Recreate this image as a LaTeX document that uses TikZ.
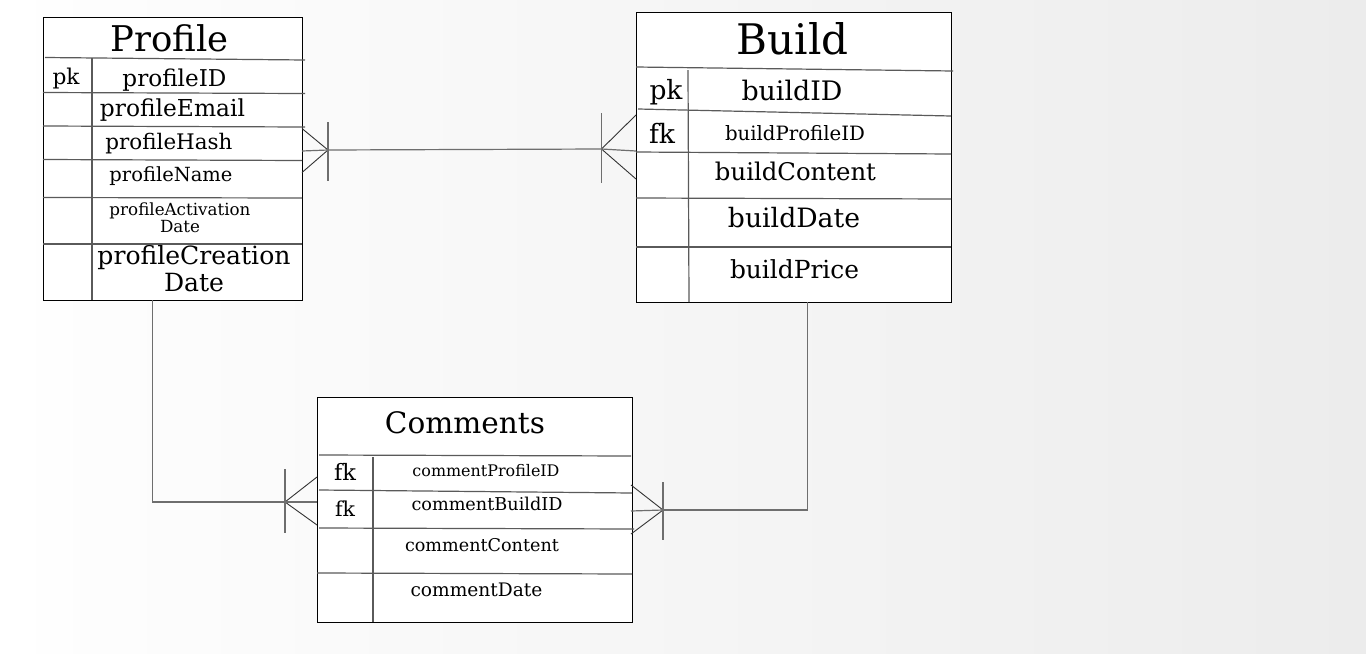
\documentclass[tikz,border=0pt]{standalone}
\usepackage{fontspec}
\setmainfont{DejaVu Serif}
\usepackage{graphicx}
\usetikzlibrary{positioning}
\definecolor{rule}{RGB}{90,90,90}
\definecolor{linkgray}{RGB}{110,110,110}
\definecolor{bgleft}{RGB}{254,254,254}
\definecolor{bgmid}{RGB}{247,247,247}
\definecolor{bgright}{RGB}{236,236,236}
\newcommand{\fitto}[2]{\resizebox{#1pt}{!}{#2}}
\tikzset{
  entity/.style={draw=black, line width=1pt, fill=white, anchor=north west,
    inner sep=0pt, outer sep=0pt},
  rowline/.style={draw=rule, line width=1.2pt},
  attr/.style={inner sep=0pt, outer sep=0pt},
  link/.style={draw=linkgray, line width=1.2pt},
  prong/.style={draw=black!80, line width=0.9pt},
}

\begin{document}
\begin{tikzpicture}[x=1pt, y=-1pt]
  % background
  \fill[white] (0,0) rectangle (1366,654);
  \fill[left color=bgleft, middle color=bgmid, right color=bgright] (36,0) rectangle (1366,653);
  \useasboundingbox (0,0) rectangle (1366,654);

  % Profile
  \node[entity, minimum width=259pt, minimum height=283pt] (profile) at (43,17) {};
  \draw[rowline] (45,57.5) -- (305,60);
  \draw[rowline] (43,92.5) -- (305,93.5);
  \draw[rowline] (43,126) -- (305,127);
  \draw[rowline] (43,159.5) -- (302,160.5);
  \draw[rowline] (43,197.5) -- (302,198);
  \draw[rowline] (43,244) -- (302,244);
  \draw[rowline] (92,58) -- (92,300);
  \node[attr] (P_title) at (169.5,38) {\fitto{118}{Profile}};
  \node[attr] (P_pk) at (66,78.5) {\fitto{27}{pk}};
  \node[attr] (P_id) at (174.5,80) {\fitto{104}{profileID}};
  \node[attr] (P_email) at (172.5,110.5) {\fitto{145}{profileEmail}};
  \node[attr] (P_hash) at (169,143.5) {\fitto{127}{profileHash}};
  \node[attr] (P_name) at (171,176) {\fitto{123}{profileName}};
  \node[attr] (P_act) at (180,220) {\fitto{141}{\begin{tabular}{@{}c@{}}profileActivation\\[-2.4pt]Date\end{tabular}}};
  \node[attr] (P_cre) at (194,272) {\fitto{193}{\begin{tabular}{@{}c@{}}profileCreation\\[-1.6pt]Date\end{tabular}}};

  % Build
  \node[entity, minimum width=315pt, minimum height=289.5pt] (build) at (636,12.5) {};
  \draw[rowline] (636,67) -- (953,71);
  \draw[rowline] (638,109) -- (951,116);
  \draw[rowline] (636,152) -- (951,154);
  \draw[rowline] (636,198) -- (951,199);
  \draw[rowline] (636,247) -- (951,247);
  \draw[rowline] (688,70) -- (689,302);
  \node[attr] (B_title) at (792.5,38.5) {\fitto{112}{Build}};
  \node[attr] (B_pk) at (666,92) {\fitto{33}{pk}};
  \node[attr] (B_fk) at (662,133) {\fitto{26}{fk}};
  \node[attr] (B_id) at (792,90) {\fitto{101}{buildID}};
  \node[attr] (B_prof) at (795,133) {\fitto{140}{buildProfileID}};
  \node[attr] (B_cont) at (795.5,171.5) {\fitto{161}{buildContent}};
  \node[attr] (B_date) at (794,218) {\fitto{132}{buildDate}};
  \node[attr] (B_price) at (794.5,269) {\fitto{129}{buildPrice}};

  % Comments
  \node[entity, minimum width=315pt, minimum height=225pt] (comments) at (317,397) {};
  \draw[rowline] (319,455) -- (631,456);
  \draw[rowline] (319,490) -- (632,493);
  \draw[rowline] (319,528) -- (634,529);
  \draw[rowline] (317,573) -- (632,574);
  \draw[rowline] (373,457) -- (373,622);
  \node[attr] (C_title) at (465,422.5) {\fitto{160}{Comments}};
  \node[attr] (C_fk1) at (345,472) {\fitto{22}{fk}};
  \node[attr] (C_fk2) at (345,509) {\fitto{20}{fk}};
  \node[attr] (C_prof) at (486,470.5) {\fitto{147}{commentProfileID}};
  \node[attr] (C_build) at (487,504) {\fitto{151}{commentBuildID}};
  \node[attr] (C_cont) at (482,545.5) {\fitto{154}{commentContent}};
  \node[attr] (C_date) at (476.5,589.5) {\fitto{132}{commentDate}};

  % crow's feet
  \coordinate (P_crow) at (328,150);
  \coordinate (B_crow) at (601.5,149);
  \coordinate (CL_crow) at (285,502);
  \coordinate (CR_crow) at (663,510);
  \draw[prong] (P_crow) -- (302,128.5);
  \draw[prong] (P_crow) -- (302,172.5);
  \draw[link] (302,151) -- (P_crow);
  \draw[link] (328,122) -- (328,181);
  \draw[prong] (B_crow) -- (636,115);
  \draw[prong] (B_crow) -- (636,179);
  \draw[link] (B_crow) -- (636,151);
  \draw[link] (601.5,113) -- (601.5,183);
  \draw[prong] (CL_crow) -- (317,477);
  \draw[prong] (CL_crow) -- (317,525);
  \draw[link] (CL_crow) -- (317,502);
  \draw[link] (285,469) -- (285,533);
  \draw[prong] (CR_crow) -- (631,485);
  \draw[prong] (CR_crow) -- (631,534);
  \draw[link] (631,511) -- (CR_crow);
  \draw[link] (663,482) -- (663,540);

  % relations
  \draw[link] (P_crow) -- (B_crow);
  \draw[link] ([xshift=-20pt]profile.south) |- (CL_crow);
  \draw[link] ([xshift=14pt]build.south) |- (CR_crow);
\end{tikzpicture}
\end{document}
